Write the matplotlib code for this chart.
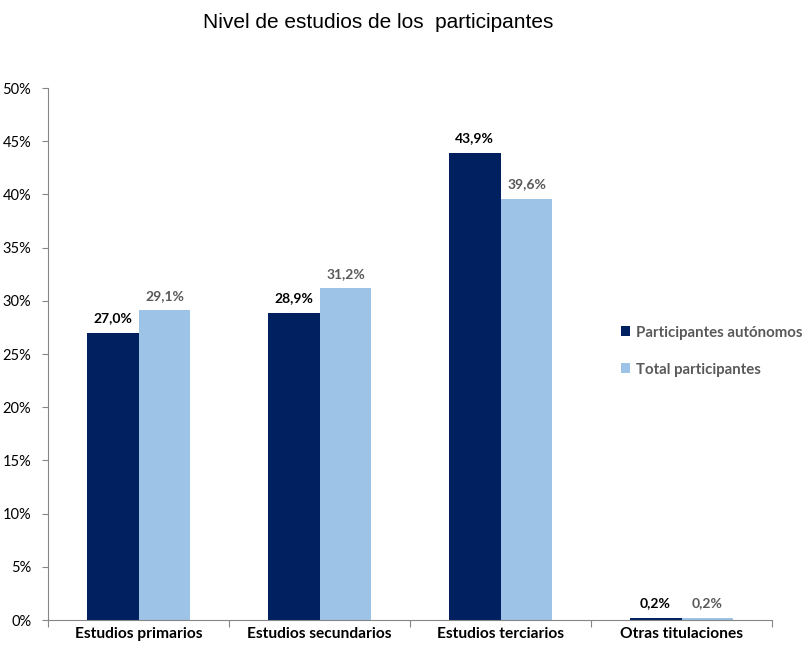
import numpy as np
import matplotlib
matplotlib.use("Agg")
from matplotlib import pyplot as plt

# Datos
categorias = ["Estudios primarios", "Estudios secundarios", "Estudios terciarios", "Otras titulaciones"]
autonomos = [27.0, 28.9, 43.9, 0.2]
total = [29.1, 31.2, 39.6, 0.2]
series = ["Participantes autónomos", "Total participantes"]

color_osc = "#002060"
color_cla = "#9DC3E6"
gris = "#868686"

fig = plt.figure(figsize=(8.09, 6.46), dpi=100)
ax = fig.add_axes([48 / 809, 26 / 646, (772 - 48) / 809, (620 - 88) / 646])

x = np.arange(len(categorias))
ancho = 0.287
b1 = ax.bar(x - ancho / 2, autonomos, ancho, color=color_osc, label=series[0])
b2 = ax.bar(x + ancho / 2, total, ancho, color=color_cla, label=series[1])

def etiquetar(barras, valores, color):
    for b, v in zip(barras, valores):
        ax.annotate(f"{v:.1f}%".replace(".", ","),
                    (b.get_x() + b.get_width() / 2, b.get_height()),
                    xytext=(0, 6), textcoords="offset points",
                    ha="center", va="bottom", fontsize=10, fontweight="bold",
                    color=color, family="Lato")

etiquetar(b1, autonomos, "black")
etiquetar(b2, total, "#595959")

ax.set_xlim(-0.5, len(categorias) - 0.5)
ax.set_ylim(0, 50)
ax.set_yticks(np.arange(0, 51, 5))
ax.set_yticklabels([f"{v}%" for v in range(0, 51, 5)], family="Lato", fontsize=10.5)

# ticks del eje x en los limites de categoria
ax.set_xticks(np.arange(-0.5, len(categorias), 1.0))
ax.set_xticklabels([])
ax.set_xticks(x, minor=True)
ax.set_xticklabels(categorias, minor=True, family="Lato", fontweight="bold", fontsize=11.2)
ax.tick_params(axis="x", which="minor", length=0, pad=5)
ax.tick_params(axis="x", which="major", length=5, color=gris)
ax.tick_params(axis="y", length=4, color=gris, pad=8)

for s in ["top", "right"]:
    ax.spines[s].set_visible(False)
for s in ["left", "bottom"]:
    ax.spines[s].set_color(gris)

fig.text(378 / 809, 1 - 22 / 646, "Nivel de estudios de los  participantes",
         ha="center", va="center", fontsize=15, family="Liberation Sans")

leg = fig.legend(loc="upper left", bbox_to_anchor=(607 / 809, 1 - 312 / 646),
                 frameon=False, handlelength=0.65, handleheight=0.65,
                 handletextpad=0.4, labelspacing=1.55,
                 prop={"family": "Lato", "weight": "bold", "size": 10.8})
for t in leg.get_texts():
    t.set_color("#595959")

fig.savefig("out.png", dpi=100)
